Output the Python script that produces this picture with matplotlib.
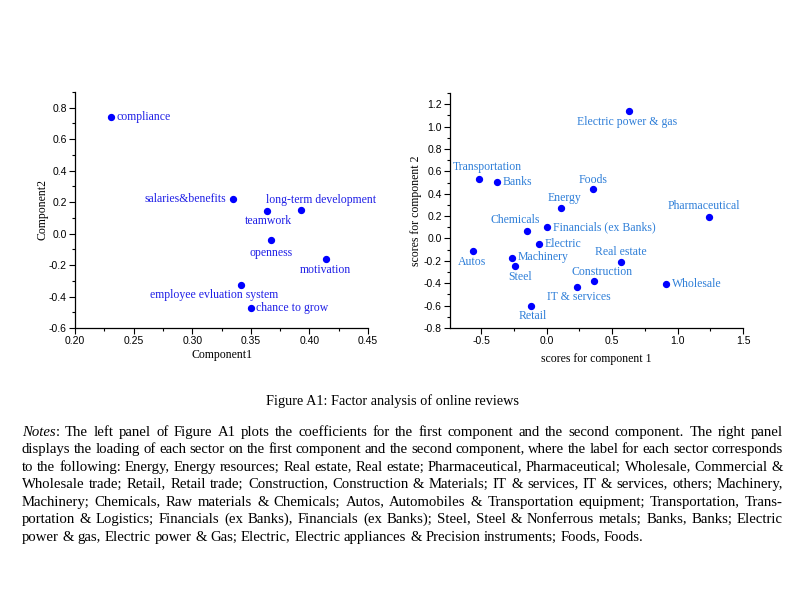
import math
import matplotlib
matplotlib.use("Agg")
import numpy as np
from matplotlib import pyplot as plt
from matplotlib.ticker import MultipleLocator, FormatStrFormatter
from matplotlib.font_manager import FontProperties, findfont, get_font
from matplotlib.backends.backend_agg import get_hinting_flag

# left panel: coefficients of the review items
items = ['compliance', 'salaries&benefits', 'teamwork', 'long-term development',
         'openness', 'motivation', 'employee evluation system', 'chance to grow']
comp1 = [0.231, 0.335, 0.364, 0.393, 0.367, 0.414, 0.342, 0.350]
comp2 = [0.741, 0.223, 0.146, 0.152, -0.043, -0.164, -0.325, -0.474]

# right panel: sector scores
sectors = ['Electric power & gas', 'Transportation', 'Banks', 'Foods', 'Energy',
           'Pharmaceutical', 'Financials (ex Banks)', 'Chemicals', 'Electric', 'Autos',
           'Machinery', 'Steel', 'Real estate', 'Construction', 'IT & services',
           'Wholesale', 'Retail']
score1 = [0.625, -0.521, -0.379, 0.356, 0.107, 1.240, 0.005, -0.155, -0.058, -0.564,
          -0.269, -0.246, 0.564, 0.361, 0.234, 0.915, -0.117]
score2 = [1.135, 0.532, 0.508, 0.446, 0.273, 0.196, 0.104, 0.065, -0.053, -0.116,
          -0.175, -0.250, -0.208, -0.380, -0.434, -0.410, -0.600]

caption = 'Figure A1: Factor analysis of online reviews'
notes_lines = [
    'Notes: The left panel of Figure A1 plots the coefficients for the first component and the second component. The right panel',
    'displays the loading of each sector on the first component and the second component, where the label for each sector corresponds',
    'to the following: Energy, Energy resources; Real estate, Real estate; Pharmaceutical, Pharmaceutical; Wholesale, Commercial &',
    'Wholesale trade; Retail, Retail trade; Construction, Construction & Materials; IT & services, IT & services, others; Machinery,',
    'Machinery; Chemicals, Raw materials & Chemicals; Autos, Automobiles & Transportation equipment; Transportation, Trans-',
    'portation & Logistics; Financials (ex Banks), Financials (ex Banks); Steel, Steel & Nonferrous metals; Banks, Banks; Electric',
    'power & gas, Electric power & Gas; Electric, Electric appliances & Precision instruments; Foods, Foods.',
]

SERIF = 'Liberation Serif'
SANS = 'Liberation Sans'
W, H = 802, 615

# label placement (offset in points, ha, va)
R = ((4, 0), 'left', 'center')
L = ((-5, 0), 'right', 'center')
item_pos = {
    'compliance': R,
    'salaries&benefits': L,
    'teamwork': ((1, -3), 'center', 'top'),
    'long-term development': ((14, 3), 'center', 'bottom'),
    'openness': ((0, -5), 'center', 'top'),
    'motivation': ((0, -3), 'center', 'top'),
    'employee evluation system': ((-20, -3), 'center', 'top'),
    'chance to grow': R,
}
sector_pos = {
    'Electric power & gas': ((-1, -3), 'center', 'top'),
    'Transportation': ((6, 4), 'center', 'bottom'),
    'Banks': R,
    'Foods': ((0, 2), 'center', 'bottom'),
    'Energy': ((3, 3), 'center', 'bottom'),
    'Pharmaceutical': ((-4, 3), 'center', 'bottom'),
    'Financials (ex Banks)': R,
    'Chemicals': ((-8, 4), 'center', 'bottom'),
    'Electric': R,
    'Autos': ((-1, -3), 'center', 'top'),
    'Machinery': ((4, 1), 'left', 'center'),
    'Steel': ((4, -3), 'center', 'top'),
    'Real estate': ((0, 3), 'center', 'bottom'),
    'Construction': ((6, 2), 'center', 'bottom'),
    'IT & services': ((1, -3), 'center', 'top'),
    'Wholesale': R,
    'Retail': ((1, -3), 'center', 'top'),
}


def style_axes(ax, xmaj, ymaj):
    for s in ['top', 'right']:
        ax.spines[s].set_visible(False)
    for s in ['left', 'bottom']:
        ax.spines[s].set_linewidth(0.9)
    ax.xaxis.set_major_locator(MultipleLocator(xmaj))
    ax.xaxis.set_minor_locator(MultipleLocator(xmaj / 2))
    ax.yaxis.set_major_locator(MultipleLocator(ymaj))
    ax.yaxis.set_minor_locator(MultipleLocator(ymaj / 2))
    ax.tick_params(which='major', direction='out', length=4, width=0.8, labelsize=7.5, pad=2)
    ax.tick_params(which='minor', direction='out', length=2, width=0.8)
    for lab in ax.get_xticklabels() + ax.get_yticklabels():
        lab.set_fontfamily(SANS)


def scatter_labels(ax, xs, ys, names, pos, color):
    ax.scatter(xs, ys, s=18, color='#0000ff', zorder=3, clip_on=False)
    for x, y, n in zip(xs, ys, names):
        off, ha, va = pos[n]
        ax.annotate(n, (x, y), xytext=off, textcoords='offset points', ha=ha, va=va,
                    color=color, fontsize=8.5, family=SERIF)


fig = plt.figure(figsize=(W / 100, H / 100), dpi=100)

ax1 = fig.add_axes([75 / W, 1 - 328 / H, 293 / W, 236 / H])
scatter_labels(ax1, comp1, comp2, items, item_pos, '#1f1fe6')
ax1.set_xlim(0.20, 0.45)
ax1.set_ylim(-0.6, 0.9)
style_axes(ax1, 0.05, 0.2)
ax1.xaxis.set_major_formatter(FormatStrFormatter('%.2f'))
ax1.yaxis.set_major_formatter(FormatStrFormatter('%.1f'))
ax1.set_xlabel('Component1', family=SERIF, fontsize=8.5, labelpad=2)
ax1.set_ylabel('Component2', family=SERIF, fontsize=8.5, labelpad=0)

ax2 = fig.add_axes([450 / W, 1 - 328 / H, 293 / W, 235 / H])
scatter_labels(ax2, score1, score2, sectors, sector_pos, '#2f7fd8')
ax2.set_xlim(-0.74, 1.5)
ax2.set_ylim(-0.8, 1.3)
style_axes(ax2, 0.5, 0.2)
ax2.xaxis.set_major_formatter(FormatStrFormatter('%.1f'))
ax2.yaxis.set_major_formatter(FormatStrFormatter('%.1f'))
ax2.set_xlabel('scores for component 1', family=SERIF, fontsize=8.5, labelpad=5)
ax2.set_ylabel('scores for component 2', family=SERIF, fontsize=8.5, labelpad=1)

fig.text(393 / W, 1 - 401 / H, caption, family=SERIF,
         fontsize=10.3, ha='center', va='center')

# justified notes paragraph, drawn word by word
fig.canvas.draw()
renderer = fig.canvas.get_renderer()
left_px, right_px = 22, 783
line_y = [436, 453, 471, 488, 506, 523, 541]  # baselines, px from top
fs = 10.6
fp_roman = FontProperties(family=SERIF, size=fs)
fp_italic = FontProperties(family=SERIF, style='italic', size=fs)


def text_width(s, style='normal'):
    t = fig.text(0, 0, s, family=SERIF, fontsize=fs, style=style)
    w = t.get_window_extent(renderer).width
    t.remove()
    return w


def baseline_shift(s, fp):
    # Agg snaps each word's bitmap to whole pixels using its own descent;
    # work out where the baseline lands so every word sits on the same row
    font = get_font(findfont(fp))
    font.clear()
    font.set_size(fs, 100)
    font.set_text(s, 0, flags=get_hinting_flag())
    _, h26 = font.get_width_height()
    desc26 = font.get_descent()
    height = h26 // 64 + 2
    b = math.floor((h26 - desc26) / 64) + 1
    return -1 + height - b - desc26 / 64


def put_word(s, fp, x, row, style):
    y_top = row + baseline_shift(s, fp) + 0.1
    fig.text(x / W, (H - y_top) / H, s, family=SERIF, fontsize=fs, style=style,
             va='baseline')


space_w = text_width('a b') - text_width('ab')
for i, (line, yp) in enumerate(zip(notes_lines, line_y)):
    words = line.split(' ')
    widths = []
    for w in words:
        if w == 'Notes:':
            widths.append(text_width('Notes', 'italic') + text_width(':'))
        else:
            widths.append(text_width(w))
    if i < len(notes_lines) - 1:
        gap = (right_px - left_px - sum(widths)) / (len(words) - 1)
    else:
        gap = space_w
    x = left_px
    for w, wd in zip(words, widths):
        if w == 'Notes:':
            put_word('Notes', fp_italic, x, yp, 'italic')
            put_word(':', fp_roman, x + text_width('Notes', 'italic'), yp, 'normal')
        else:
            put_word(w, fp_roman, x, yp, 'normal')
        x += wd + gap

fig.savefig('out.png', dpi=100)
